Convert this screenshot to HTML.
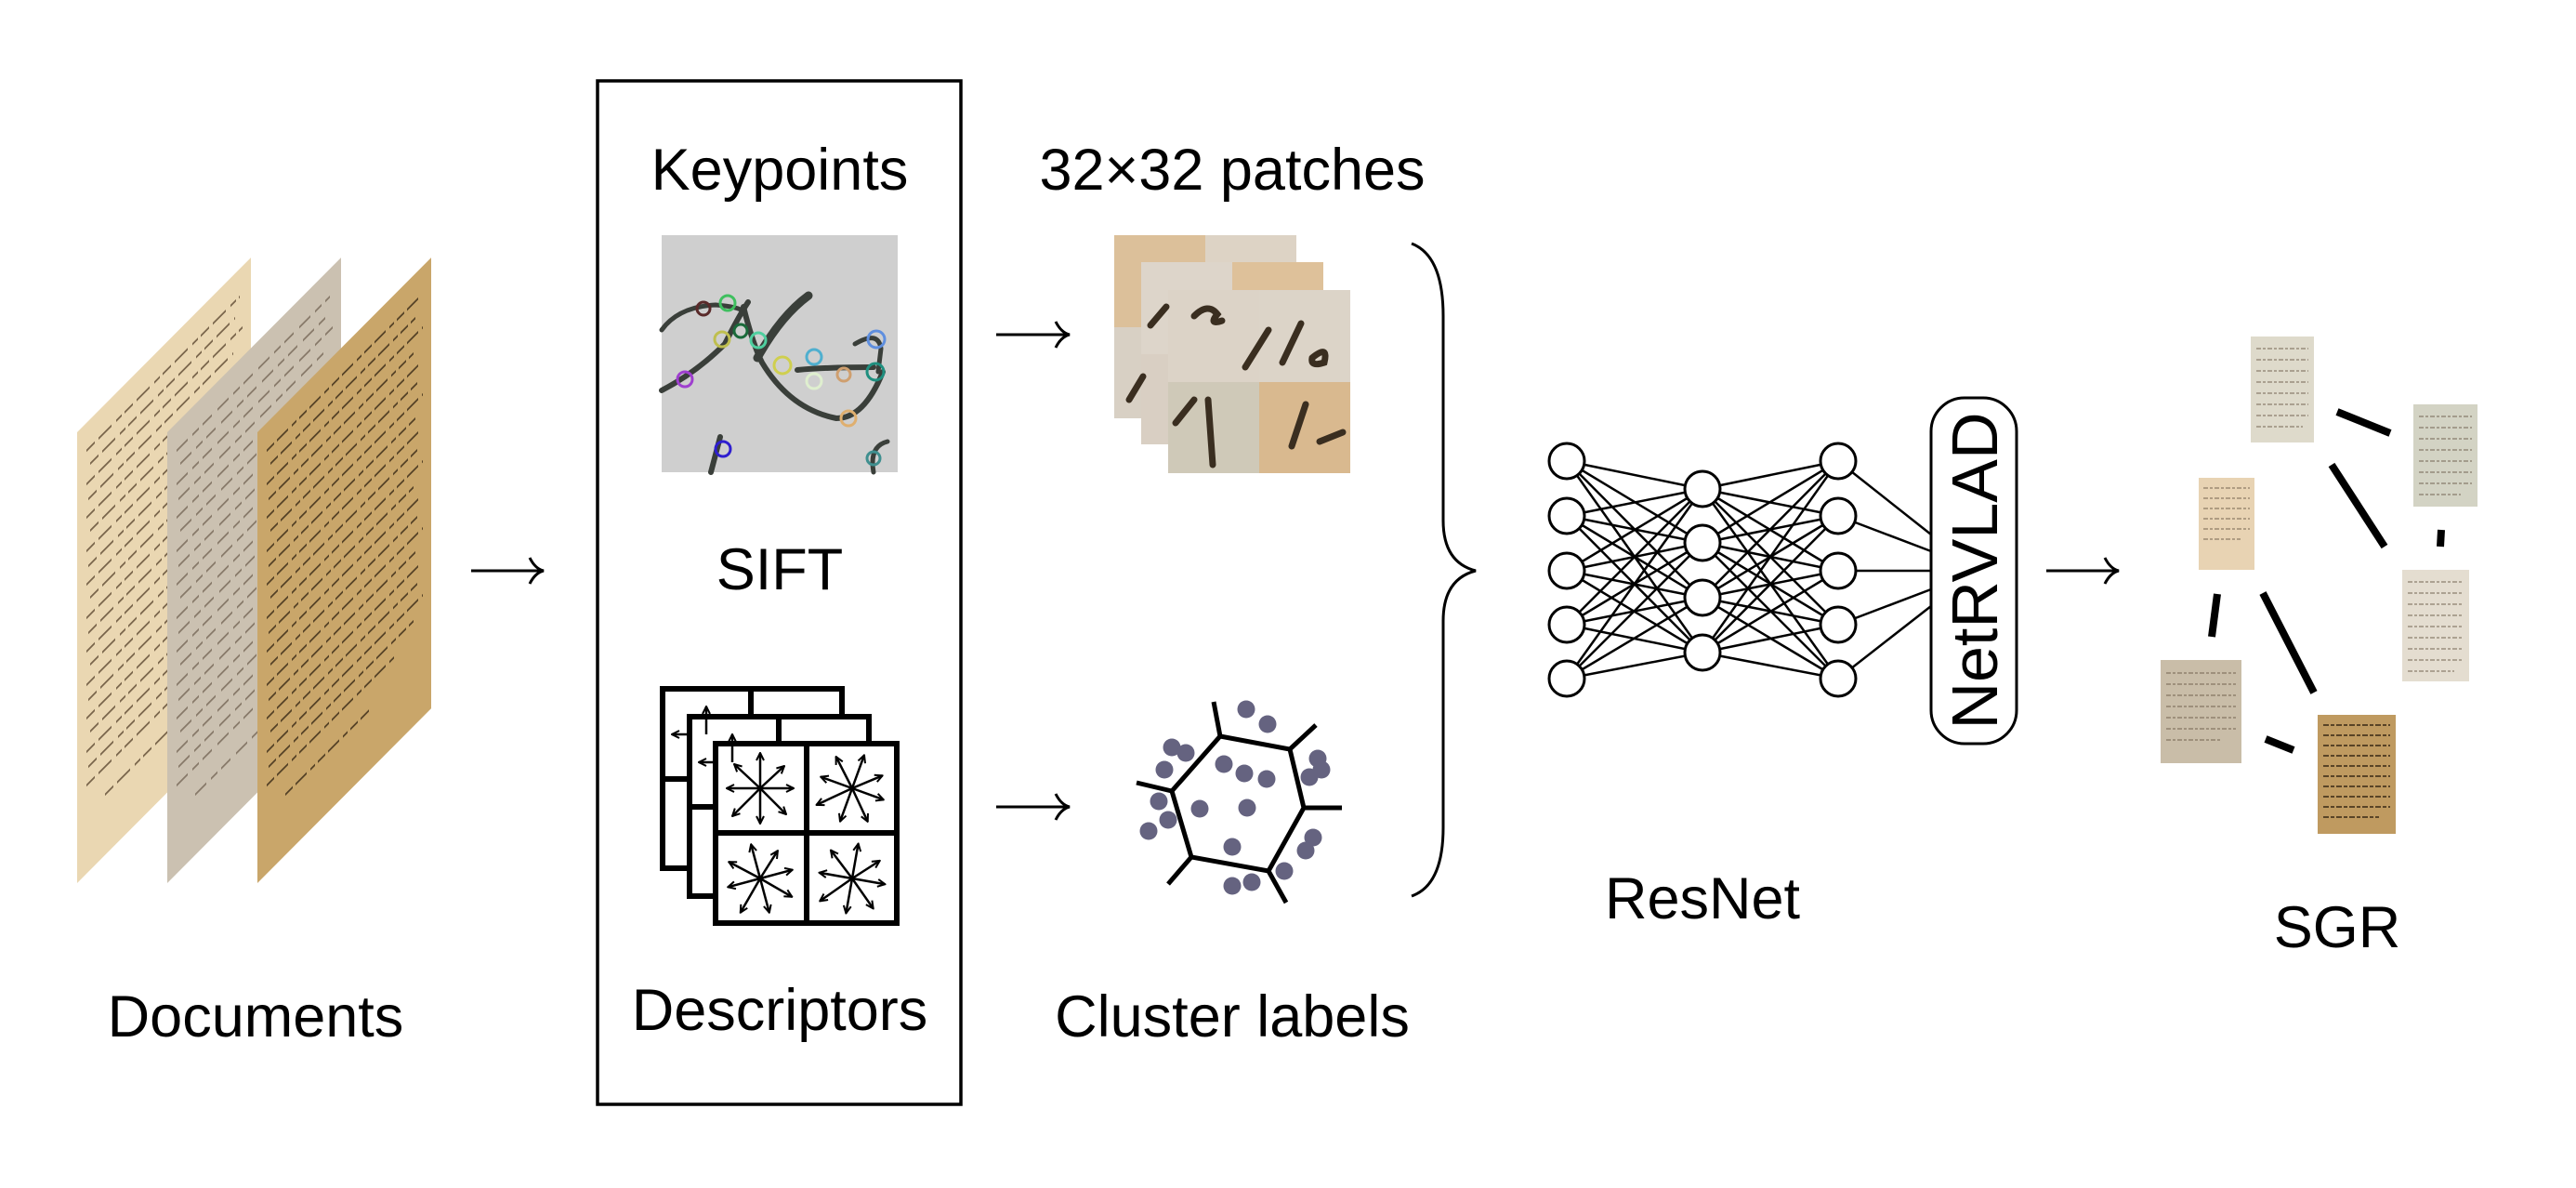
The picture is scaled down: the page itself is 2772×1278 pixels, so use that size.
<!DOCTYPE html>
<html><head><meta charset="utf-8"><style>
html,body{margin:0;padding:0;background:#fff}
svg{display:block}
text{font-family:"Liberation Sans",sans-serif;fill:#000}
</style></head><body>
<svg width="2772" height="1278" viewBox="0 0 2772 1278" xmlns="http://www.w3.org/2000/svg">
<defs>
<marker id="ah" viewBox="0 0 10 10" refX="9" refY="5" markerWidth="4" markerHeight="4" orient="auto"><path d="M1,1 L9,5 L1,9" fill="none" stroke="#000" stroke-width="2"/></marker>
<g id="txt">
<line x1="10" y1="30" x2="175" y2="30"/><line x1="14" y1="48" x2="170" y2="48"/><line x1="10" y1="66" x2="178" y2="66"/><line x1="12" y1="84" x2="168" y2="84"/><line x1="10" y1="102" x2="176" y2="102"/><line x1="14" y1="120" x2="172" y2="120"/><line x1="10" y1="138" x2="178" y2="138"/><line x1="12" y1="156" x2="170" y2="156"/><line x1="10" y1="174" x2="176" y2="174"/><line x1="14" y1="192" x2="172" y2="192"/><line x1="10" y1="210" x2="178" y2="210"/><line x1="12" y1="228" x2="168" y2="228"/><line x1="10" y1="246" x2="176" y2="246"/><line x1="14" y1="264" x2="172" y2="264"/><line x1="10" y1="282" x2="178" y2="282"/><line x1="12" y1="300" x2="170" y2="300"/><line x1="10" y1="318" x2="176" y2="318"/><line x1="14" y1="336" x2="172" y2="336"/><line x1="10" y1="354" x2="178" y2="354"/><line x1="12" y1="372" x2="168" y2="372"/><line x1="10" y1="390" x2="150" y2="390"/><line x1="30" y1="420" x2="120" y2="420"/>
</g>
<g id="star">
<line x1="0" y1="0" x2="0" y2="-38" marker-end="url(#ah)"/><line x1="0" y1="0" x2="0" y2="38" marker-end="url(#ah)"/>
<line x1="0" y1="0" x2="-36" y2="0" marker-end="url(#ah)"/><line x1="0" y1="0" x2="36" y2="0" marker-end="url(#ah)"/>
<line x1="0" y1="0" x2="-28" y2="-26" marker-end="url(#ah)"/><line x1="0" y1="0" x2="26" y2="-24" marker-end="url(#ah)"/>
<line x1="0" y1="0" x2="-30" y2="30" marker-end="url(#ah)"/><line x1="0" y1="0" x2="28" y2="28" marker-end="url(#ah)"/>
</g>
</defs>

<g>
<g transform="matrix(1,-1.005,0,1,83,465)"><rect width="187" height="485" fill="#ead7b2"/><use href="#txt" stroke="#4a3520" stroke-width="2.5" stroke-dasharray="9 4 14 5 6 3" opacity="0.7"/></g>
<g transform="matrix(1,-1.005,0,1,180,465)"><rect width="187" height="485" fill="#cbc1b1"/><use href="#txt" stroke="#5a4a3a" stroke-width="2.5" stroke-dasharray="12 5 7 4 10 6" opacity="0.6"/></g>
<g transform="matrix(1,-1.005,0,1,277,465)"><rect width="187" height="485" fill="#c9a66a"/><use href="#txt" stroke="#2e2010" stroke-width="2.5" stroke-dasharray="8 3 12 4 5 3" opacity="0.75"/></g>
</g>
<text x="275" y="1115" font-size="63" text-anchor="middle">Documents</text>

<line x1="507" y1="614" x2="583" y2="614" stroke="#000" stroke-width="3"/>
<path d="M570,600 Q576,612 585,614 Q576,616 570,628" fill="none" stroke="#000" stroke-width="3"/>

<rect x="643" y="87" width="391" height="1101" fill="none" stroke="#000" stroke-width="3.5"/>
<text x="839" y="204" font-size="63" text-anchor="middle">Keypoints</text>
<text x="839" y="634" font-size="63" text-anchor="middle">SIFT</text>
<text x="839" y="1108" font-size="63" text-anchor="middle">Descriptors</text>

<rect x="712" y="253" width="254" height="255" fill="#cfcfcf"/>
<g fill="none" stroke="#3a3f3a" stroke-linecap="round">
<path d="M712,355 Q730,330 770,328 Q795,330 800,335" stroke-width="5"/>
<path d="M712,420 Q750,400 780,370 Q795,340 805,325" stroke-width="6"/>
<path d="M800,330 Q810,370 820,390 Q850,440 900,450 Q930,450 950,400" stroke-width="6"/>
<path d="M815,385 Q840,340 870,318" stroke-width="9"/>
<path d="M858,398 Q890,395 940,395" stroke-width="6"/>
<path d="M920,370 Q945,355 948,375 L945,400" stroke-width="5"/>
<path d="M775,470 L765,508" stroke-width="6"/>
<path d="M940,508 Q935,480 955,475" stroke-width="5"/>
</g>
<g fill="none" stroke-width="3">
<circle cx="757" cy="332" r="7" stroke="#5a2a2a"/><circle cx="783" cy="326" r="8" stroke="#3fbf5f"/>
<circle cx="797" cy="356" r="7" stroke="#1a6a3a"/><circle cx="777" cy="365" r="8" stroke="#bfbf4f"/>
<circle cx="737" cy="408" r="8" stroke="#9f3fcf"/><circle cx="816" cy="366" r="8" stroke="#4fcf9f"/>
<circle cx="842" cy="393" r="9" stroke="#cfcf4f"/><circle cx="876" cy="384" r="8" stroke="#4fafcf"/>
<circle cx="876" cy="410" r="8" stroke="#dfefcf"/><circle cx="908" cy="403" r="7" stroke="#cf9f6f"/>
<circle cx="943" cy="365" r="9" stroke="#5f8fdf"/><circle cx="942" cy="400" r="9" stroke="#1f8f7f"/>
<circle cx="913" cy="450" r="8" stroke="#dfaf6f"/><circle cx="778" cy="483" r="8" stroke="#2f1fcf"/>
<circle cx="940" cy="493" r="7" stroke="#3f8f8f"/>
</g>

<g fill="#fff" stroke="#000" stroke-width="6">
<rect x="713" y="741" width="193" height="193"/><line x1="808" y1="741" x2="808" y2="840"/><line x1="713" y1="838" x2="745" y2="838"/>
<rect x="742" y="771" width="193" height="193"/><line x1="838" y1="771" x2="838" y2="800"/><line x1="742" y1="868" x2="772" y2="868"/>
<rect x="770" y="800" width="195" height="193"/><line x1="868" y1="800" x2="868" y2="993"/><line x1="770" y1="896" x2="965" y2="896"/>
</g>
<g stroke="#000" stroke-width="2.5" fill="none">
<line x1="760" y1="790" x2="760" y2="760" marker-end="url(#ah)"/><line x1="745" y1="790" x2="723" y2="790" marker-end="url(#ah)"/>
<line x1="788" y1="820" x2="788" y2="790" marker-end="url(#ah)"/><line x1="772" y1="820" x2="752" y2="820" marker-end="url(#ah)"/>
<use href="#star" transform="translate(818,848)"/>
<use href="#star" transform="translate(917,848) rotate(20)"/>
<use href="#star" transform="translate(818,945) rotate(-15)"/>
<use href="#star" transform="translate(917,945) rotate(10)"/>
</g>

<g stroke="#000" stroke-width="3" fill="none">
<line x1="1072" y1="360" x2="1148" y2="360"/><path d="M1136,346 Q1142,358 1151,360 Q1142,362 1136,374"/>
<line x1="1072" y1="868" x2="1148" y2="868"/><path d="M1136,854 Q1142,866 1151,868 Q1142,870 1136,882"/>
</g>

<text x="1326" y="204" font-size="63" text-anchor="middle">32×32 patches</text>
<g>
<rect x="1199" y="253" width="98" height="99" fill="#dcc09a"/><rect x="1297" y="253" width="98" height="99" fill="#ddd3c5"/>
<rect x="1199" y="352" width="98" height="98" fill="#d8d0c4"/><rect x="1297" y="352" width="98" height="98" fill="#dcc09a"/>
<rect x="1228" y="282" width="98" height="99" fill="#ddd5ca"/><rect x="1326" y="282" width="98" height="99" fill="#dec19a"/>
<rect x="1228" y="381" width="98" height="97" fill="#d9cfc3"/><rect x="1326" y="381" width="98" height="97" fill="#d6ccbc"/>
<rect x="1257" y="312" width="98" height="99" fill="#dcd3c7"/><rect x="1355" y="312" width="98" height="99" fill="#dcd4c8"/>
<rect x="1257" y="411" width="98" height="98" fill="#cfc9b8"/><rect x="1355" y="411" width="98" height="98" fill="#d9b98f"/>
<g fill="none" stroke="#3a2e20" stroke-linecap="round" stroke-width="7">
<path d="M1285,340 Q1300,325 1310,338 Q1300,350 1315,345"/>
<path d="M1340,395 L1365,355"/><path d="M1380,390 L1400,348"/><path d="M1412,385 Q1430,370 1425,390 Q1410,395 1412,385"/>
<path d="M1265,455 L1285,430"/><path d="M1300,430 L1305,500"/><path d="M1390,480 L1405,435"/><path d="M1420,475 L1445,465"/>
<path d="M1238,350 L1255,330"/><path d="M1215,430 L1230,405"/>
</g>
</g>

<g fill="none" stroke="#000" stroke-width="5">
<polygon points="1313,792 1388,806 1403,869 1365,937 1282,922 1261,851"/>
<line x1="1313" y1="792" x2="1306" y2="755"/><line x1="1388" y1="806" x2="1416" y2="780"/>
<line x1="1403" y1="869" x2="1444" y2="869"/><line x1="1365" y1="937" x2="1384" y2="971"/>
<line x1="1282" y1="922" x2="1257" y2="951"/><line x1="1261" y1="851" x2="1223" y2="842"/>
</g>
<g fill="#656380">
<circle cx="1341" cy="763" r="9.5"/><circle cx="1364" cy="779" r="9.5"/><circle cx="1261" cy="804" r="9.5"/><circle cx="1276" cy="810" r="9.5"/>
<circle cx="1253" cy="828" r="9.5"/><circle cx="1317" cy="822" r="9.5"/><circle cx="1339" cy="832" r="9.5"/><circle cx="1363" cy="838" r="9.5"/>
<circle cx="1418" cy="816" r="9.5"/><circle cx="1422" cy="828" r="9.5"/><circle cx="1409" cy="836" r="9.5"/><circle cx="1247" cy="862" r="9.5"/>
<circle cx="1291" cy="870" r="9.5"/><circle cx="1342" cy="869" r="9.5"/><circle cx="1257" cy="882" r="9.5"/><circle cx="1236" cy="894" r="9.5"/>
<circle cx="1326" cy="911" r="9.5"/><circle cx="1413" cy="901" r="9.5"/><circle cx="1405" cy="915" r="9.5"/><circle cx="1382" cy="937" r="9.5"/>
<circle cx="1347" cy="949" r="9.5"/><circle cx="1326" cy="953" r="9.5"/>
</g>
<text x="1326" y="1115" font-size="63" text-anchor="middle">Cluster labels</text>

<path d="M1519,262 Q1553,275 1553,340 L1553,560 Q1553,605 1588,614 Q1553,623 1553,668 L1553,890 Q1553,952 1519,964" fill="none" stroke="#000" stroke-width="3"/>

<g stroke="#000" stroke-width="2.5">
<g id="lines1">
<line x1="1686" y1="496" x2="1832" y2="526"/><line x1="1686" y1="496" x2="1832" y2="584"/><line x1="1686" y1="496" x2="1832" y2="643"/><line x1="1686" y1="496" x2="1832" y2="702"/>
<line x1="1686" y1="555" x2="1832" y2="526"/><line x1="1686" y1="555" x2="1832" y2="584"/><line x1="1686" y1="555" x2="1832" y2="643"/><line x1="1686" y1="555" x2="1832" y2="702"/>
<line x1="1686" y1="614" x2="1832" y2="526"/><line x1="1686" y1="614" x2="1832" y2="584"/><line x1="1686" y1="614" x2="1832" y2="643"/><line x1="1686" y1="614" x2="1832" y2="702"/>
<line x1="1686" y1="672" x2="1832" y2="526"/><line x1="1686" y1="672" x2="1832" y2="584"/><line x1="1686" y1="672" x2="1832" y2="643"/><line x1="1686" y1="672" x2="1832" y2="702"/>
<line x1="1686" y1="730" x2="1832" y2="526"/><line x1="1686" y1="730" x2="1832" y2="584"/><line x1="1686" y1="730" x2="1832" y2="643"/><line x1="1686" y1="730" x2="1832" y2="702"/>
</g>
<use href="#lines1" transform="translate(3664,0) scale(-1,1)"/>
<line x1="1978" y1="496" x2="2078" y2="575"/><line x1="1978" y1="555" x2="2078" y2="593"/><line x1="1978" y1="614" x2="2078" y2="614"/><line x1="1978" y1="672" x2="2078" y2="634"/><line x1="1978" y1="730" x2="2078" y2="652"/>
</g>
<g fill="#fff" stroke="#000" stroke-width="3">
<circle cx="1686" cy="496" r="19"/><circle cx="1686" cy="555" r="19"/><circle cx="1686" cy="614" r="19"/><circle cx="1686" cy="672" r="19"/><circle cx="1686" cy="730" r="19"/>
<circle cx="1832" cy="526" r="19"/><circle cx="1832" cy="584" r="19"/><circle cx="1832" cy="643" r="19"/><circle cx="1832" cy="702" r="19"/>
<circle cx="1978" cy="496" r="19"/><circle cx="1978" cy="555" r="19"/><circle cx="1978" cy="614" r="19"/><circle cx="1978" cy="672" r="19"/><circle cx="1978" cy="730" r="19"/>
</g>
<text x="1832" y="988" font-size="63" text-anchor="middle">ResNet</text>

<rect x="2078" y="428" width="92" height="372" rx="36" fill="#fff" stroke="#000" stroke-width="3"/>
<text transform="translate(2149,614) rotate(-90)" font-size="70" text-anchor="middle">NetRVLAD</text>

<g stroke="#000" stroke-width="3" fill="none">
<line x1="2202" y1="614" x2="2277" y2="614"/><path d="M2265,600 Q2271,612 2280,614 Q2271,616 2265,628"/>
</g>

<rect x="2422" y="362" width="68" height="114" fill="#dedacb"/>
<rect x="2597" y="435" width="69" height="110" fill="#d3d3c4"/>
<rect x="2366" y="514" width="60" height="99" fill="#e8d3b3"/>
<rect x="2585" y="613" width="72" height="120" fill="#e4ddd0"/>
<rect x="2325" y="710" width="87" height="111" fill="#c9bda8"/>
<rect x="2494" y="769" width="84" height="128" fill="#bf9a60"/>
<g stroke="#6a5a48" stroke-width="1.5" opacity="0.6" stroke-dasharray="5 2 3 2">
<path d="M2428,375h56M2428,387h56M2428,399h56M2428,411h56M2428,423h56M2428,435h56M2428,447h56M2428,459h50"/>
<path d="M2603,448h57M2603,460h57M2603,472h57M2603,484h57M2603,496h57M2603,508h57M2603,520h57M2603,532h45"/>
<path d="M2371,525h50M2371,536h50M2371,547h50M2371,558h50M2371,569h50M2371,580h40"/>
<path d="M2591,626h60M2591,638h60M2591,650h60M2591,662h60M2591,674h60M2591,686h60M2591,698h60M2591,710h60M2591,722h50"/>
<path d="M2331,724h75M2331,736h75M2331,748h75M2331,760h75M2331,772h75M2331,784h75M2331,796h60"/>
</g>
<g stroke="#2e2010" stroke-width="2" opacity="0.7" stroke-dasharray="6 2 4 2">
<path d="M2500,780h72M2500,791h72M2500,802h72M2500,813h72M2500,824h72M2500,835h72M2500,846h72M2500,857h72M2500,868h72M2500,879h60"/>
</g>
<g stroke="#000" stroke-width="8">
<line x1="2515" y1="443" x2="2572" y2="466"/><line x1="2509" y1="500" x2="2566" y2="588"/>
<line x1="2627" y1="570" x2="2626" y2="588"/><line x1="2386" y1="639" x2="2380" y2="685"/>
<line x1="2435" y1="638" x2="2490" y2="745"/><line x1="2438" y1="795" x2="2468" y2="807"/>
</g>
<text x="2515" y="1019" font-size="63" text-anchor="middle">SGR</text>
</svg>
</body></html>
